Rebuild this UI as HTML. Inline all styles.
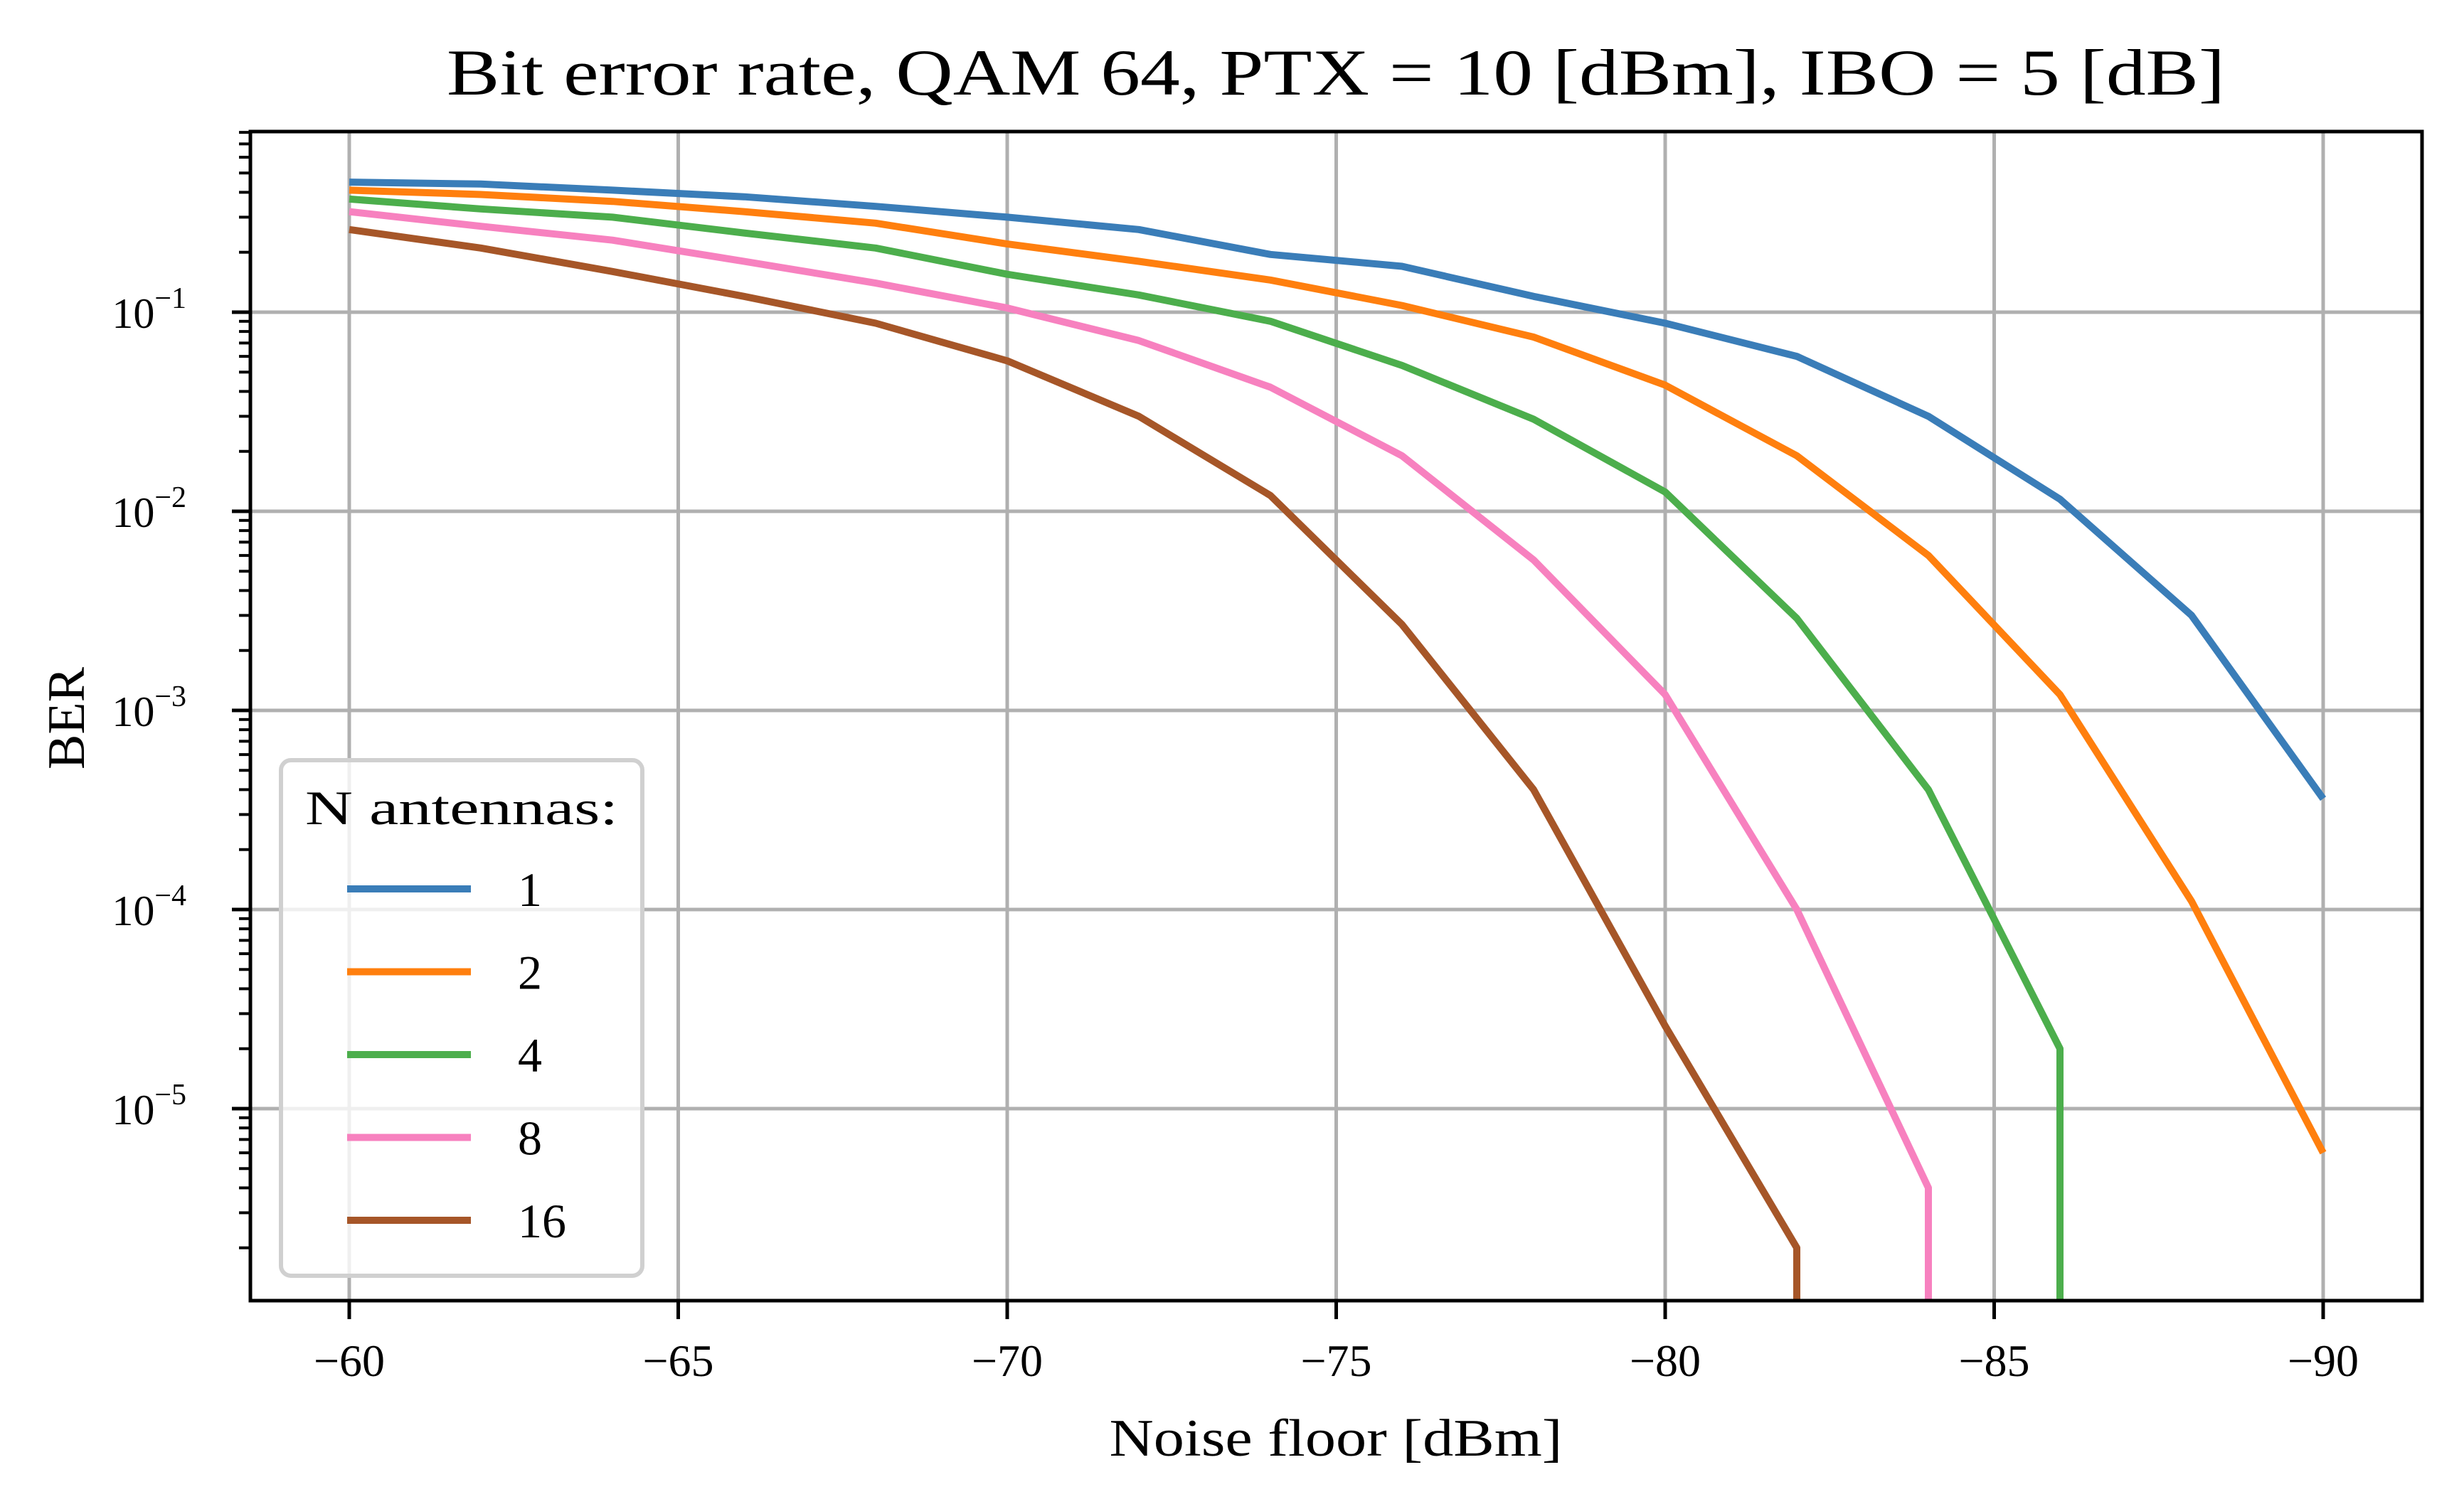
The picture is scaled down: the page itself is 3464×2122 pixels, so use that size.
<!DOCTYPE html>
<html><head><meta charset="utf-8"><style>
html,body{margin:0;padding:0;background:#fff;width:3464px;height:2122px;overflow:hidden;}
svg{display:block;font-family:"Liberation Serif","DejaVu Serif",serif;}
</style></head><body>
<svg id="chart" width="3464" height="2122" viewBox="0 0 3464 2122" xmlns="http://www.w3.org/2000/svg" overflow="hidden">
<defs><clipPath id="plotclip"><rect x="352" y="185" width="3053" height="1644"/></clipPath></defs>
<rect width="3464" height="2122" fill="#fff"/>
<g id="grid"></g>
<g id="series" clip-path="url(#plotclip)"></g>
<rect x="352" y="185" width="3053" height="1644" fill="none" stroke="#000" stroke-width="5"/>
<g id="ticks"></g>
<text x="1878" y="133" font-size="92" text-anchor="middle" textLength="2500" lengthAdjust="spacingAndGlyphs">Bit error rate, QAM 64, PTX = 10 [dBm], IBO = 5 [dB]</text>
<text x="1878" y="2047" font-size="74" text-anchor="middle" textLength="637" lengthAdjust="spacingAndGlyphs">Noise floor [dBm]</text>
<text x="0" y="0" font-size="74" text-anchor="middle" transform="translate(118,1010) rotate(-90)">BER</text>
<g id="legend"></g>
</svg>
<script>
const xValues = [-60,-62,-64,-66,-68,-70,-72,-74,-76,-78,-80,-82,-84,-86,-88,-90];
const ber1  = [0.45,0.44,0.41,0.38,0.34,0.30,0.26,0.195,0.17,0.12,0.088,0.06,0.03,0.0115,0.003,0.00036];
const ber2  = [0.41,0.39,0.36,0.32,0.28,0.22,0.18,0.145,0.108,0.075,0.043,0.019,0.006,0.0012,0.00011,0.000006];
const ber4  = [0.37,0.33,0.30,0.25,0.21,0.155,0.122,0.09,0.054,0.029,0.0125,0.0029,0.0004,0.00002,0,0];
const ber8  = [0.32,0.27,0.23,0.18,0.14,0.105,0.072,0.042,0.019,0.0057,0.0012,0.0001,0.000004,0,0,0];
const ber16 = [0.26,0.21,0.16,0.12,0.088,0.057,0.03,0.012,0.0027,0.0004,0.000026,0.000002,0,0,0,0];
const seriesNames = ["1","2","4","8","16"];
const seriesColors = ["#3a7db8","#ff7f0e","#4cae4c","#f781bf","#a65628"];
const xTicks = [-60,-65,-70,-75,-80,-85,-90];
const yTickExps = [-1,-2,-3,-4,-5];

const NS="http://www.w3.org/2000/svg";
const L=352,R=3405,T=185,B=1829;
function xs(v){return 491+(v-(-60))/(-30)*(3266-491);}
const DEC=280, Y1=439;
function ys(v){ return Y1+(-1-Math.log10(v))*DEC; }
function mk(tag,attrs,parent){const e=document.createElementNS(NS,tag);for(const k in attrs)e.setAttribute(k,attrs[k]);parent.appendChild(e);return e;}
const grid=document.getElementById('grid'),ticks=document.getElementById('ticks'),ser=document.getElementById('series'),leg=document.getElementById('legend');

xTicks.forEach(t=>{
  const x=xs(t);
  const g=mk('line',{x1:x,x2:x,y1:T,y2:B,stroke:'#b0b0b0','stroke-width':5},grid);
  
  
  const tk=mk('line',{x1:x,x2:x,y1:B,y2:B+26,stroke:'#000','stroke-width':5},ticks);
  
  
  const lb=mk('text',{x:x,y:1935,'font-size':64,'text-anchor':'middle'},ticks);
  lb.textContent='\u2212'+Math.abs(t);
  
  
});
yTickExps.forEach(e=>{
  const y=ys(Math.pow(10,e));
  const g=mk('line',{x1:L,x2:R,y1:y,y2:y,stroke:'#b0b0b0','stroke-width':5},grid);
  
  
  const tk=mk('line',{x1:L-26,x2:L,y1:y,y2:y,stroke:'#000','stroke-width':5},ticks);
  
  
  const lb=mk('text',{x:262,y:y+22,'font-size':60,'text-anchor':'end'},ticks);
  
  
  const a=mk('tspan',{},lb);a.textContent='10';
  const s=mk('tspan',{dy:-28,'font-size':42},lb);s.textContent='\u2212'+Math.abs(e);
});
for(let d=0;d>=-6;d--){
  for(let m=2;m<=9;m++){
    const y=ys(m*Math.pow(10,d-1));
    if(y<T||y>B) continue;
    const tk=mk('line',{x1:L-16,x2:L,y1:y,y2:y,stroke:'#000','stroke-width':4},ticks);
    
    
  }
}
const allSeries=[ber1,ber2,ber4,ber8,ber16];
allSeries.forEach((vals,i)=>{
  const pts=[];
  for(let k=0;k<xValues.length;k++){
    if(vals[k]<=0){
      const px = k>0 ? xs(xValues[k-1]) : xs(xValues[k]);
      pts.push(px.toFixed(1)+','+(B+10));
      break;
    }
    pts.push(xs(xValues[k]).toFixed(1)+','+ys(vals[k]).toFixed(1));
  }
  const p=mk('polyline',{points:pts.join(' '),fill:'none',stroke:seriesColors[i],'stroke-width':10,'stroke-linejoin':'round'},ser);
  
  
});
const box=mk('rect',{x:395,y:1069,width:508,height:725,rx:14,fill:'#fff','fill-opacity':0.8,stroke:'#d0d0d0','stroke-width':6},leg);


const lt=mk('text',{x:649,y:1159,'font-size':68,'text-anchor':'middle',textLength:440,lengthAdjust:'spacingAndGlyphs'},leg);
lt.textContent='N antennas:';


seriesNames.forEach((n,i)=>{
  const y=1250+i*116.5;
  const ln=mk('line',{x1:488,x2:662,y1:y,y2:y,stroke:seriesColors[i],'stroke-width':10},leg);
  
  
  const tx=mk('text',{x:728,y:y+24,'font-size':68},leg);
  tx.textContent=n;
  
  
});
</script>
</body></html>
